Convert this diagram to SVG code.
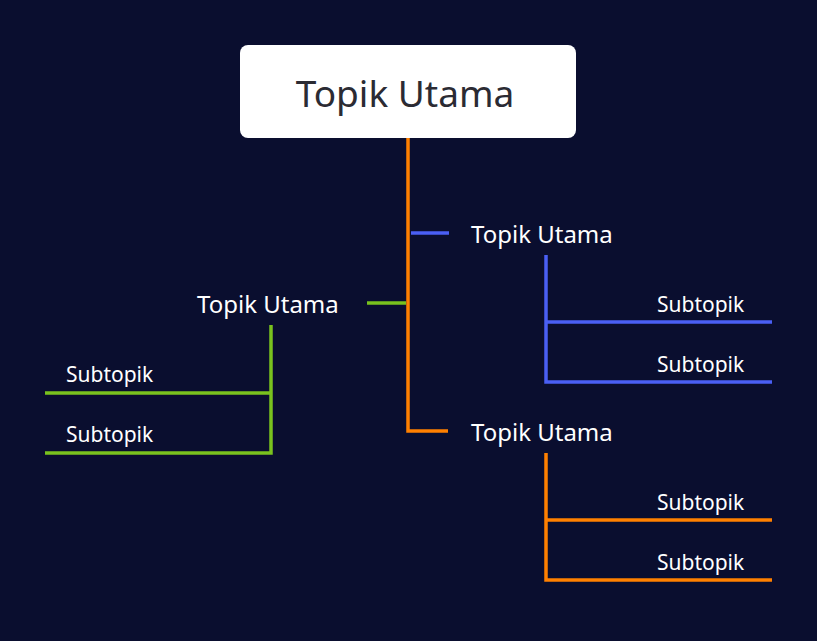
<svg xmlns="http://www.w3.org/2000/svg" width="817" height="641" viewBox="0 0 817 641">
<style>
.t{font-family:"Noto Sans","Open Sans",sans-serif;fill:#fff}
.m{font-size:24px}
.s{font-size:21px}
.c{fill:none;stroke-width:3.5}
.o{stroke:#ff8000}.b{stroke:#4a5ff5}.g{stroke:#79c21e}
</style>
<rect width="817" height="641" fill="#0a0e2f"/>
<g id="connectors">
<path class="c o" d="M408 138V431H448"/>
<path class="c b" d="M411 233H449"/>
<path class="c g" d="M367 303H406"/>
<path class="c b" d="M546 255V382H772M546 322H772"/>
<path class="c o" d="M546 453V580H772M546 520H772"/>
<path class="c g" d="M271 325V453H45M271 393H45"/>
</g>
<g id="root"><rect x="240" y="45" width="336" height="93" rx="8" fill="#fff"/>
<text x="405" y="107" text-anchor="middle" class="t" style="fill:#2b2b33;font-size:37px">Topik Utama</text></g>
<g id="n1"><text x="471" y="243" class="t m">Topik Utama</text></g>
<g id="n2"><text x="197" y="313" class="t m">Topik Utama</text></g>
<g id="n3"><text x="471" y="441" class="t m">Topik Utama</text></g>
<g id="s1"><text x="657" y="312" class="t s">Subtopik</text></g>
<g id="s2"><text x="657" y="372" class="t s">Subtopik</text></g>
<g id="s3"><text x="657" y="510" class="t s">Subtopik</text></g>
<g id="s4"><text x="657" y="570" class="t s">Subtopik</text></g>
<g id="s5"><text x="66" y="382" class="t s">Subtopik</text></g>
<g id="s6"><text x="66" y="442" class="t s">Subtopik</text></g>
</svg>
